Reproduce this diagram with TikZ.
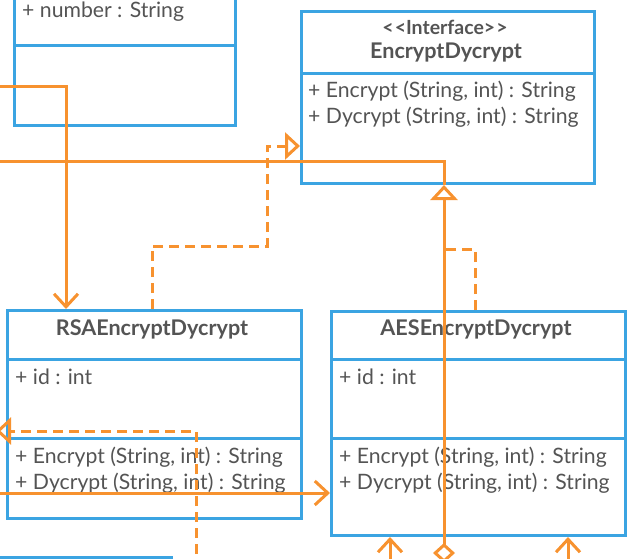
\documentclass[tikz,border=0pt]{standalone}
\usepackage{fontspec}
\setmainfont{Lato}
\usepackage{tikz}
\usetikzlibrary{arrows.meta}
\definecolor{umlblue}{RGB}{59,164,226}
\definecolor{umlorange}{RGB}{247,146,47}
\definecolor{umlgray}{RGB}{84,84,84}

\begin{document}
\begin{tikzpicture}[x=1pt, y=-1pt,
  part/.style={draw=umlblue, line width=3pt, fill=white, anchor=north west, inner sep=0pt},
  member/.style={anchor=west, inner sep=0pt, text=umlgray, font=\fontsize{21.2}{25}\selectfont},
  cname/.style={inner sep=0pt, text=umlgray, font=\bfseries\fontsize{21.6}{25}\selectfont},
  link/.style={umlorange, line width=3pt},
  dlink/.style={link, dash pattern=on 10pt off 6pt},
  vee/.style={-{Straight Barb[length=13pt, width=24pt]}},
  realize/.style={-{Triangle[open, length=15pt, width=27pt]}},
  aggreal/.style={{Diamond[open, length=20pt, width=22pt]}-{Triangle[open, length=15pt, width=27pt]}}]
\useasboundingbox (0,0) rectangle (642,559);
\clip (0,0) rectangle (642,559);

% classes
\node[part, minimum width=221pt, minimum height=104pt] (topattr) at (13,-60) {};
\node[part, minimum width=221pt, minimum height=80pt] (topops) at (13,44) {};
\node[member] (number) at (22,11.5) {+ number : String};

\node[part, minimum width=293pt, minimum height=62pt] (ititle) at (300,10) {};
\node[part, minimum width=293pt, minimum height=110pt] (iops) at (300,72) {};
\node[cname, font=\bfseries\fontsize{19.5}{23}\selectfont] (stereo) at (445,27) {<\kern1pt<Interface>\kern1pt>};
\node[cname] (iname) at (446,53) {EncryptDycrypt};
\node[member] (ienc) at (308,91) {+ Encrypt (String, int) : String};
\node[member] (idec) at (308,117) {+ Dycrypt (String, int) : String};

\node[part, minimum width=294pt, minimum height=48.5pt] (rsatitle) at (6,309) {};
\node[part, minimum width=294pt, minimum height=79.5pt] (rsaattr) at (6,357.5) {};
\node[part, minimum width=294pt, minimum height=80pt] (rsaops) at (6,437) {};
\node[cname] (rsaname) at (152,329) {RSAEncryptDycrypt};
\node[member] (rsaid) at (15,377) {+ id : int};
\node[member] (rsaenc) at (15,457) {+ Encrypt (String, int) : String};
\node[member] (rsadec) at (15,483) {+ Dycrypt (String, int) : String};

\node[part, minimum width=294pt, minimum height=48pt] (aestitle) at (330,310) {};
\node[part, minimum width=294pt, minimum height=79pt] (aesattr) at (330,358) {};
\node[part, minimum width=294pt, minimum height=97pt] (aesops) at (330,437) {};
\node[cname] (aesname) at (476,329) {AESEncryptDycrypt};
\node[member] (aesid) at (339,377) {+ id : int};
\node[member] (aesenc) at (339,457) {+ Encrypt (String, int) : String};
\node[member] (aesdec) at (339,483) {+ Dycrypt (String, int) : String};

\node[part, minimum width=230pt, minimum height=100pt] (bottombox) at (-60,556) {};

% connectors
\coordinate (inA) at (-5,87);
\coordinate (inB) at (-5,161);
\coordinate (inC) at (-5,493);
\coordinate (outC) at (-4,431);
\coordinate (lowC) at (196,570);
\coordinate (lowD) at (444,563);
\coordinate (lowE) at (390,570);
\coordinate (lowF) at (568,570);

\draw[link, vee] (inA) -| ([xshift=60pt]rsatitle.north west);
\draw[dlink, realize] ([xshift=146pt]rsatitle.north west) -- ++(0,-63) -- ++(115,0) |- ([yshift=-74pt]iops.north west);
\draw[link] (inB) -| ([xshift=144pt]iops.south west);
\draw[link, aggreal] (lowD) -- ([xshift=144pt]iops.south west);
\draw[dlink] ([xshift=145pt]aestitle.north west) |- ([xshift=144pt, yshift=-64pt]iops.south west);
\draw[dlink, realize] (lowC) |- (outC);
\draw[link, vee] (inC) -- ([yshift=-56pt]aesops.north west);
\draw[link, vee] (lowE) -- ([xshift=60pt]aesops.south west);
\draw[link, vee] (lowF) -- ([xshift=238pt]aesops.south west);
\end{tikzpicture}
\end{document}
